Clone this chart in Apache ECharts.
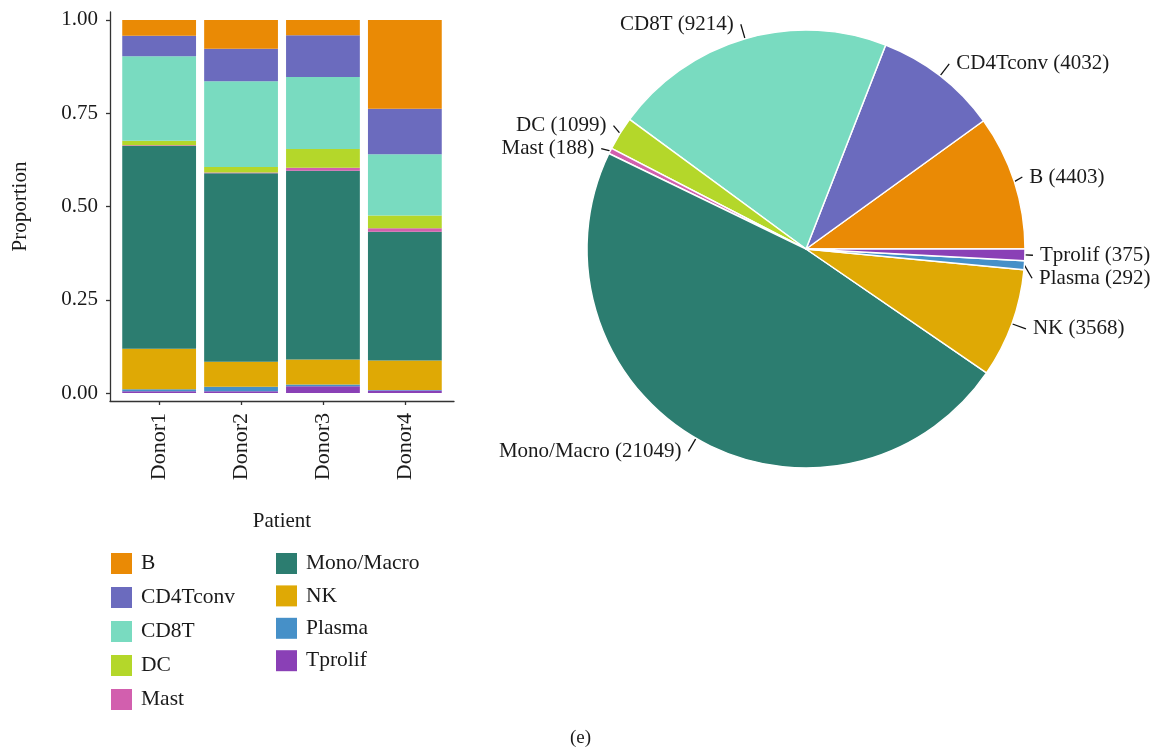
<!DOCTYPE html>
<html>
<head>
<meta charset="utf-8">
<script src="https://cdn.jsdelivr.net/npm/echarts@6/dist/echarts.min.js"></script>
<style>
  html, body { margin: 0; padding: 0; background: #ffffff; }
  #chart { width: 1162px; height: 748px; }
</style>
</head>
<body>
<div id="chart"></div>
<script>
// Patients on the x axis
const patients = ['Donor1', 'Donor2', 'Donor3', 'Donor4'];

// Cell types, listed bottom-to-top in each stacked bar
const stackOrder = ['Tprolif', 'Plasma', 'NK', 'Mono/Macro', 'Mast', 'DC', 'CD8T', 'CD4Tconv', 'B'];

// Proportion of each cell type per patient (Donor1..Donor4)
const tprolif = [0.005, 0.005, 0.018, 0.007];
const plasma  = [0.005, 0.012, 0.005, 0.001];
const nk      = [0.109, 0.067, 0.067, 0.079];
const mono    = [0.543, 0.505, 0.506, 0.345];
const mast    = [0.002, 0.002, 0.008, 0.010];
const dc      = [0.012, 0.015, 0.050, 0.034];
const cd8t    = [0.227, 0.230, 0.193, 0.164];
const cd4     = [0.055, 0.087, 0.112, 0.122];
const bcell   = [0.042, 0.077, 0.041, 0.238];

// Total cell counts per type (pie)
const pieNames  = ['B', 'CD4Tconv', 'CD8T', 'DC', 'Mast', 'Mono/Macro', 'NK', 'Plasma', 'Tprolif'];
const pieCounts = [4403, 4032, 9214, 1099, 188, 21049, 3568, 292, 375];

// Y tick values
const yTicks = [0, 0.25, 0.5, 0.75, 1];

// Legend columns
const legendLeft  = ['B', 'CD4Tconv', 'CD8T', 'DC', 'Mast'];
const legendRight = ['Mono/Macro', 'NK', 'Plasma', 'Tprolif'];

const palette = {
  'B': '#EA8A05',
  'CD4Tconv': '#6B6BBE',
  'CD8T': '#79DBC0',
  'DC': '#B4D72A',
  'Mast': '#D25FAE',
  'Mono/Macro': '#2C7D70',
  'NK': '#DFA905',
  'Plasma': '#4690C8',
  'Tprolif': '#8A40B6'
};

const proportions = {
  'Tprolif': tprolif, 'Plasma': plasma, 'NK': nk, 'Mono/Macro': mono, 'Mast': mast,
  'DC': dc, 'CD8T': cd8t, 'CD4Tconv': cd4, 'B': bcell
};

const FONT = 'Liberation Serif';
const TEXT = '#1a1a1a';
const AXIS = '#333333';

// Each item is [proportion, patientPosition]; the proportion comes first so
// that it is the dimension ECharts stacks on.
const barSeries = stackOrder.map(function (name) {
  return {
    type: 'bar',
    name: name,
    stack: 'prop',
    barWidth: 73.8,
    encode: { x: 1, y: 0 },
    itemStyle: { color: palette[name] },
    emphasis: { disabled: true },
    data: proportions[name].map(function (v, i) { return [v, i + 1]; })
  };
});

const pieSeries = {
  type: 'pie',
  name: 'counts',
  center: [806, 249],
  radius: 219,
  startAngle: 0,
  clockwise: false,
  avoidLabelOverlap: true,
  itemStyle: { borderColor: '#ffffff', borderWidth: 1.5 },
  emphasis: { disabled: true },
  label: {
    show: true,
    fontFamily: FONT,
    fontSize: 21,
    color: TEXT,
    distanceToLabelLine: 7,
    formatter: function (p) { return p.name + ' (' + p.value + ')'; }
  },
  labelLine: { show: true, length: 15, length2: 0, lineStyle: { color: '#111', width: 1.3 } },
  data: pieNames.map(function (n, i) {
    return { name: n, value: pieCounts[i], itemStyle: { color: palette[n] } };
  })
};

function legendBlock(data, left, gap) {
  return {
    data: data,
    orient: 'vertical',
    left: left,
    top: 552.5,
    padding: 0,
    icon: 'rect',
    itemWidth: 21,
    itemHeight: 21,
    itemGap: gap,
    selectedMode: false,
    textStyle: { fontFamily: FONT, fontSize: 21.5, lineHeight: 21, color: TEXT, padding: [0, 0, 0, 4] }
  };
}

const chart = echarts.init(document.getElementById('chart'), null, { renderer: 'canvas' });

chart.setOption({
  animation: false,
  backgroundColor: '#ffffff',
  grid: { left: 110, top: 12, width: 344, height: 389, containLabel: false },
  xAxis: {
    type: 'value',
    min: 0.4,
    max: 4.6,
    name: 'Patient',
    nameLocation: 'middle',
    nameGap: 110,
    nameTextStyle: { fontFamily: FONT, fontSize: 21, color: TEXT },
    splitLine: { show: false },
    axisLine: { show: true, onZero: false, lineStyle: { color: AXIS, width: 1.3 } },
    axisTick: { show: true, length: 4, customValues: [1, 2, 3, 4], lineStyle: { color: AXIS, width: 1.3 } },
    axisLabel: {
      customValues: [1, 2, 3, 4],
      rotate: 90,
      margin: 12,
      fontFamily: FONT,
      fontSize: 22,
      color: TEXT,
      formatter: function (v) { return patients[Math.round(v) - 1]; }
    }
  },
  yAxis: {
    type: 'value',
    min: -0.0214,
    max: 1.0214,
    name: 'Proportion',
    nameLocation: 'middle',
    nameGap: 79,
    nameRotate: 90,
    nameTextStyle: { fontFamily: FONT, fontSize: 21, color: TEXT },
    splitLine: { show: false },
    axisLine: { show: true, onZero: false, lineStyle: { color: AXIS, width: 1.3 } },
    axisTick: { show: true, length: 4, customValues: yTicks, lineStyle: { color: AXIS, width: 1.3 } },
    axisLabel: {
      customValues: yTicks,
      margin: 12,
      fontFamily: FONT,
      fontSize: 21,
      color: TEXT,
      formatter: function (v) { return v.toFixed(2); }
    }
  },
  legend: [
    legendBlock(legendLeft, 111, 12),
    legendBlock(legendRight, 276, 10.4)
  ],
  series: barSeries.concat([pieSeries]),
  graphic: [{
    type: 'text',
    left: 570,
    top: 729,
    style: { text: '(e)', fontFamily: FONT, fontSize: 19, fill: TEXT }
  }]
});
</script>
</body>
</html>
